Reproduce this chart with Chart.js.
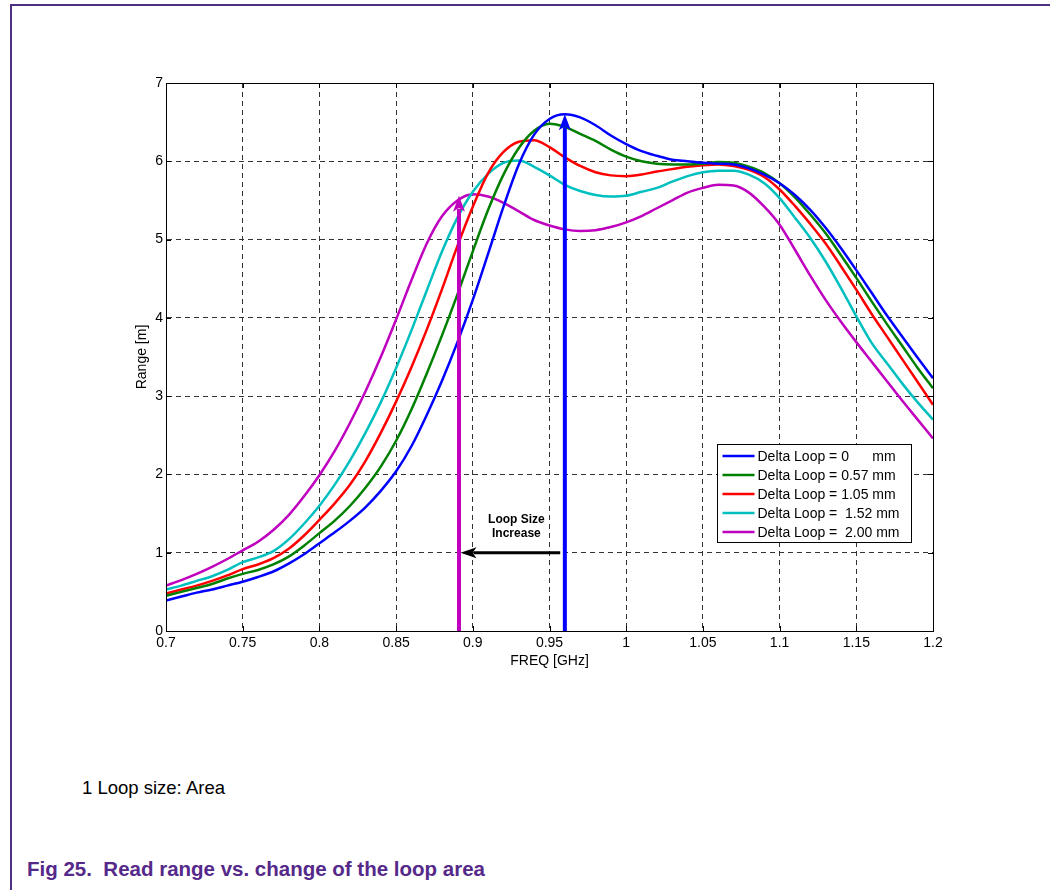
<!DOCTYPE html>
<html>
<head>
  <meta charset="utf-8">
  <title>Read range vs. change of the loop area</title>
  <script src="https://cdn.jsdelivr.net/npm/chart.js"></script>
  <style>
    html, body { margin: 0; padding: 0; background: #fff; }
    body { width: 1050px; height: 890px; position: relative; overflow: hidden;
           font-family: "Liberation Sans", Arial, sans-serif; }
    .frame { position: absolute; left: 10px; top: 4px; right: 0; bottom: 0;
             border-left: 2px solid #4e2f86; border-top: 2px solid #4e2f86; }
    #rangeChart { position: absolute; left: 0; top: 0; }
    .note { position: absolute; left: 82px; top: 777px; font-size: 18.5px; color: #000; }
    .caption { position: absolute; left: 27px; top: 857px; font-size: 20.5px; font-weight: bold; color: #55298a; }
  </style>
</head>
<body>
  <div class="frame"></div>
  <canvas id="rangeChart" width="1050" height="700"></canvas>
  <div class="note">1 Loop size: Area</div>
  <div class="caption">Fig 25.&nbsp; Read range vs. change of the loop area</div>

  <script>
    // frequency grid [GHz]
    const freq = [0.70, 0.71, 0.72, 0.73, 0.74, 0.75, 0.76, 0.77, 0.78, 0.79,
                  0.80, 0.81, 0.82, 0.83, 0.84, 0.85, 0.86, 0.87, 0.88, 0.89,
                  0.90, 0.91, 0.92, 0.93, 0.94, 0.95, 0.96, 0.97, 0.98, 0.99,
                  1.00, 1.01, 1.02, 1.03, 1.04, 1.05, 1.06, 1.07, 1.08, 1.09,
                  1.10, 1.11, 1.12, 1.13, 1.14, 1.15, 1.16, 1.17, 1.18, 1.19, 1.20];

    // read range [m] per loop size
    const loop000 = [0.39, 0.44, 0.49, 0.53, 0.58, 0.63, 0.69, 0.76, 0.86, 0.98,
                     1.12, 1.26, 1.41, 1.58, 1.79, 2.04, 2.36, 2.76, 3.20, 3.69,
                     4.23, 4.82, 5.42, 5.96, 6.34, 6.54, 6.60, 6.56, 6.46, 6.33,
                     6.22, 6.13, 6.07, 6.02, 6.00, 5.98, 5.97, 5.96, 5.91, 5.83,
                     5.72, 5.57, 5.38, 5.15, 4.89, 4.61, 4.32, 4.03, 3.76, 3.49, 3.23];
    const loop057 = [0.45, 0.50, 0.55, 0.60, 0.67, 0.73, 0.78, 0.85, 0.95, 1.09,
                     1.25, 1.41, 1.60, 1.83, 2.10, 2.43, 2.83, 3.29, 3.78, 4.30,
                     4.85, 5.38, 5.83, 6.17, 6.39, 6.48, 6.44, 6.35, 6.26, 6.15,
                     6.06, 6.00, 5.97, 5.96, 5.96, 5.97, 5.99, 5.98, 5.93, 5.85,
                     5.72, 5.54, 5.32, 5.08, 4.80, 4.51, 4.21, 3.92, 3.64, 3.36, 3.10];
    const loop105 = [0.48, 0.53, 0.58, 0.64, 0.71, 0.79, 0.85, 0.93, 1.05, 1.22,
                     1.42, 1.63, 1.87, 2.17, 2.53, 2.93, 3.37, 3.85, 4.37, 4.92,
                     5.42, 5.85, 6.12, 6.25, 6.27, 6.18, 6.05, 5.94, 5.86, 5.82,
                     5.81, 5.83, 5.87, 5.90, 5.93, 5.95, 5.96, 5.94, 5.89, 5.80,
                     5.64, 5.43, 5.20, 4.95, 4.66, 4.36, 4.05, 3.76, 3.47, 3.18, 2.89];
    const loop152 = [0.53, 0.58, 0.64, 0.70, 0.78, 0.88, 0.94, 1.02, 1.17, 1.37,
                     1.60, 1.87, 2.18, 2.53, 2.92, 3.36, 3.84, 4.35, 4.85, 5.28,
                     5.61, 5.84, 5.98, 6.01, 5.93, 5.82, 5.70, 5.62, 5.57, 5.55,
                     5.56, 5.61, 5.66, 5.74, 5.81, 5.86, 5.88, 5.88, 5.83, 5.72,
                     5.53, 5.28, 5.02, 4.72, 4.38, 4.02, 3.68, 3.42, 3.16, 2.92, 2.70];
    const loop200 = [0.58, 0.65, 0.73, 0.82, 0.92, 1.03, 1.14, 1.29, 1.48, 1.72,
                     1.99, 2.30, 2.66, 3.06, 3.50, 3.98, 4.48, 4.95, 5.30, 5.50,
                     5.58, 5.55, 5.47, 5.36, 5.25, 5.18, 5.13, 5.11, 5.12, 5.16,
                     5.22, 5.30, 5.40, 5.50, 5.60, 5.66, 5.70, 5.69, 5.60, 5.42,
                     5.19, 4.87, 4.54, 4.23, 3.95, 3.69, 3.44, 3.19, 2.94, 2.70, 2.46];

    const seriesLabels = ['Delta Loop = 0      mm', 'Delta Loop = 0.57 mm', 'Delta Loop = 1.05 mm',
                          'Delta Loop =  1.52 mm', 'Delta Loop =  2.00 mm'];
    const xTicks = [0.7, 0.75, 0.8, 0.85, 0.9, 0.95, 1.0, 1.05, 1.1, 1.15, 1.2];
    const yTicks = [0, 1, 2, 3, 4, 5, 6, 7];

    // annotation arrows: peak markers [freq, range top] and the shift arrow
    const peakArrowFreq = [0.96, 0.891];
    const peakArrowTop = [6.6, 5.56];
    const shiftArrowFreq = [0.957, 0.892];
    const shiftArrowLevel = 1.0;
    const shiftLabel = ['Loop Size', 'Increase'];

    const colors = ['#0000ff', '#008000', '#ff0000', '#00bfbf', '#bf00bf'];
    const FONT = '"Liberation Sans", Arial, sans-serif';

    const toPoints = vals => freq.map((f, i) => ({ x: f, y: vals[i] }));
    const allSeries = [loop000, loop057, loop105, loop152, loop200];

    function drawArrow(ctx, x1, y1, x2, y2, color, w, len, half) {
      const ang = Math.atan2(y2 - y1, x2 - x1);
      const c = Math.cos(ang), s = Math.sin(ang);
      const bx = x2 - len * c, by = y2 - len * s;
      ctx.strokeStyle = color;
      ctx.fillStyle = color;
      ctx.lineWidth = w;
      ctx.beginPath();
      ctx.moveTo(x1, y1);
      ctx.lineTo(bx + 3 * c, by + 3 * s);
      ctx.stroke();
      ctx.beginPath();
      ctx.moveTo(x2, y2);
      ctx.lineTo(bx - half * s, by + half * c);
      ctx.lineTo(bx + 0.25 * len * c, by + 0.25 * len * s);
      ctx.lineTo(bx + half * s, by - half * c);
      ctx.closePath();
      ctx.fill();
    }

    const matlabAxes = {
      id: 'matlabAxes',
      afterDatasetsDraw(chart) {
        const { ctx, chartArea: a, scales: { x, y } } = chart;
        ctx.save();
        // peak arrows
        peakArrowFreq.forEach((f, i) => {
          const px = x.getPixelForValue(f);
          drawArrow(ctx, px, y.getPixelForValue(0), px, y.getPixelForValue(peakArrowTop[i]),
                    i === 0 ? colors[0] : colors[4], 4, 16, 6);
        });
        // shift arrow
        const ay = y.getPixelForValue(shiftArrowLevel);
        drawArrow(ctx, x.getPixelForValue(shiftArrowFreq[0]), ay,
                  x.getPixelForValue(shiftArrowFreq[1]), ay, '#000', 3, 16, 5.5);
        ctx.fillStyle = '#000';
        ctx.font = 'bold 12px ' + FONT;
        ctx.textAlign = 'center';
        ctx.textBaseline = 'middle';
        const tx = (x.getPixelForValue(shiftArrowFreq[0]) + x.getPixelForValue(shiftArrowFreq[1])) / 2 + 6;
        ctx.fillText(shiftLabel[0], tx, ay - 33);
        ctx.fillText(shiftLabel[1], tx, ay - 19);

        // box
        ctx.strokeStyle = '#000';
        ctx.lineWidth = 1;
        ctx.strokeRect(Math.round(a.left) + 0.5, Math.round(a.top) + 0.5,
                       Math.round(a.right - a.left), Math.round(a.bottom - a.top));
        // inward ticks
        ctx.beginPath();
        x.ticks.forEach(t => {
          const px = Math.round(x.getPixelForValue(t.value)) + 0.5;
          ctx.moveTo(px, a.bottom); ctx.lineTo(px, a.bottom - 5);
          ctx.moveTo(px, a.top); ctx.lineTo(px, a.top + 5);
        });
        y.ticks.forEach(t => {
          const py = Math.round(y.getPixelForValue(t.value)) + 0.5;
          ctx.moveTo(a.left, py); ctx.lineTo(a.left + 5, py);
          ctx.moveTo(a.right, py); ctx.lineTo(a.right - 5, py);
        });
        ctx.stroke();

        // legend
        const lx = Math.round(a.right) - 216 + 0.5, ly = Math.round(a.bottom) - 187 + 0.5;
        ctx.fillStyle = '#fff';
        ctx.fillRect(lx, ly, 194, 98);
        ctx.strokeStyle = '#000';
        ctx.lineWidth = 1;
        ctx.strokeRect(lx, ly, 194, 98);
        ctx.font = '14px ' + FONT;
        ctx.textAlign = 'left';
        ctx.textBaseline = 'middle';
        chart.data.datasets.forEach((ds, i) => {
          const ry = ly + 11.5 + i * 19;
          ctx.strokeStyle = ds.borderColor;
          ctx.lineWidth = 2.5;
          ctx.beginPath();
          ctx.moveTo(lx + 5, ry);
          ctx.lineTo(lx + 37, ry);
          ctx.stroke();
          ctx.fillStyle = '#000';
          ctx.fillText(ds.label, lx + 40, ry + 1);
        });
        ctx.restore();
      }
    };

    new Chart(document.getElementById('rangeChart'), {
      type: 'line',
      data: {
        datasets: allSeries.map((vals, i) => ({
          label: seriesLabels[i],
          data: toPoints(vals),
          borderColor: colors[i],
          backgroundColor: colors[i],
          borderWidth: 2.5,
          pointRadius: 0,
          fill: false,
          cubicInterpolationMode: 'monotone'
        }))
      },
      options: {
        responsive: false,
        animation: false,
        layout: { padding: { left: 130, right: 117, top: 83, bottom: 26 } },
        plugins: { legend: { display: false }, tooltip: { enabled: false } },
        scales: {
          x: {
            type: 'linear',
            min: 0.7,
            max: 1.2,
            afterBuildTicks: s => { s.ticks = xTicks.map(v => ({ value: v })); },
            afterFit: s => { s.height = 43; },
            ticks: {
              color: '#000',
              font: { family: FONT, size: 14 },
              padding: 4,
              maxRotation: 0,
              autoSkip: false,
              callback: v => String(+Number(v).toFixed(2))
            },
            grid: { color: '#333', lineWidth: 1, drawTicks: false },
            border: { display: true, color: '#000', width: 1, dash: [5, 4] },
            title: { display: true, text: 'FREQ [GHz]', color: '#000',
                     font: { family: FONT, size: 14 }, padding: { top: 4, bottom: 4 } }
          },
          y: {
            type: 'linear',
            min: 0,
            max: 7,
            afterBuildTicks: s => { s.ticks = yTicks.map(v => ({ value: v })); },
            afterFit: s => { s.width = 36; },
            ticks: {
              color: '#000',
              font: { family: FONT, size: 14 },
              padding: 3,
              autoSkip: false
            },
            grid: { color: '#333', lineWidth: 1, drawTicks: false },
            border: { display: true, color: '#000', width: 1, dash: [5, 4] },
            title: { display: true, text: 'Range [m]', color: '#000',
                     font: { family: FONT, size: 14 }, padding: { top: 4, bottom: 4 } }
          }
        }
      },
      plugins: [matlabAxes]
    });
  </script>
</body>
</html>
